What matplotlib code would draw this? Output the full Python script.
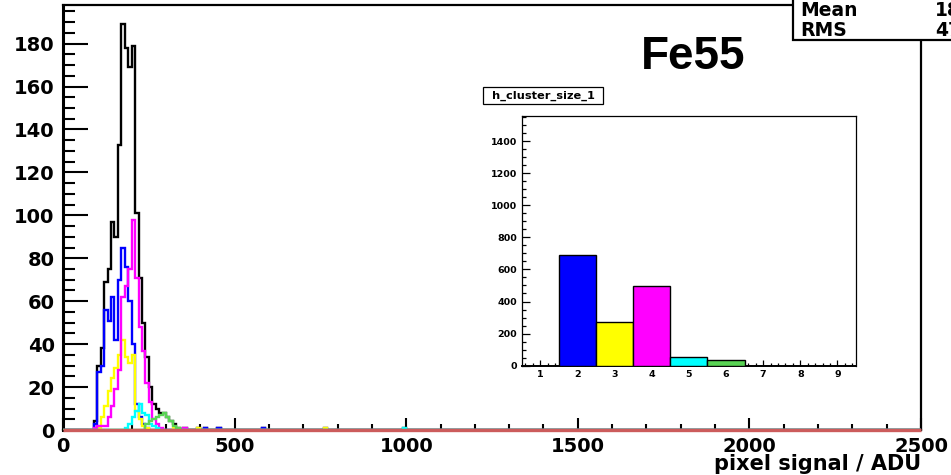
import numpy as np
import matplotlib
matplotlib.use("Agg")
import matplotlib.pyplot as plt
from matplotlib.patches import Rectangle
from matplotlib.ticker import MultipleLocator

plt.rcParams['font.family'] = ['DejaVu Sans']
plt.rcParams['font.weight'] = 'bold'

# pixel signal histograms, 10 ADU bins from 0 to 2500
bin_width = 10
n_bins = 250

# counts per bin, each list starts at the given bin index
total_start, total_counts = 9, [4, 30, 38, 69, 75, 97, 90, 133, 189, 178, 169, 179,
                                101, 71, 50, 34, 20, 12, 10, 8, 8, 6, 4, 3, 1]
size2_start, size2_counts = 9, [3, 27, 30, 56, 51, 62, 42, 70, 85, 76, 60, 40, 12, 6, 3, 1]
size3_start, size3_counts = 10, [1, 6, 11, 18, 24, 29, 35, 42, 34, 31, 35, 9, 5, 2, 1]
size4_start, size4_counts = 9, [1, 2, 2, 2, 6, 11, 19, 28, 62, 67, 75, 98, 71, 48, 37,
                                22, 13, 5, 3, 1]
size5_start, size5_counts = 18, [1, 3, 6, 9, 12, 8, 7, 3, 2, 1]
size6_start, size6_counts = 24, [3, 4, 5, 6, 7, 8, 6, 4, 2, 1]

# isolated single entries far out in the tail (bin indices)
size2_single = [41, 45, 58]
size3_single = [32, 39, 76]
size4_single = [35]
size5_single = [99]
total_single = [35, 39, 41, 45, 58, 76, 99]

# cluster size distribution for the inset
cluster_sizes = [1, 2, 3, 4, 5, 6, 7, 8, 9]
cluster_counts = [0, 690, 270, 498, 52, 35, 0, 0, 0]

stat_mean = "185.3"
stat_rms = "47.21"

col_total = "black"
col_size2 = "#0000ff"
col_size3 = "#ffff00"
col_size4 = "#ff00ff"
col_size5 = "#00ffff"
col_size6 = "#59d454"
col_size1 = "#cc5c5c"


def fill_hist(start, counts, singles=()):
    h = np.zeros(n_bins)
    h[start:start + len(counts)] += counts
    for b in singles:
        h[b] += 1
    return h


edges = np.arange(n_bins + 1) * bin_width

fig = plt.figure(figsize=(9.51, 4.75), dpi=100)
ax = fig.add_axes([63 / 951, 1 - 430 / 475, (921 - 63) / 951, (430 - 5) / 475])

hists = [
    (fill_hist(total_start, total_counts, total_single), col_total),
    (fill_hist(size2_start, size2_counts, size2_single), col_size2),
    (fill_hist(size3_start, size3_counts, size3_single), col_size3),
    (fill_hist(size4_start, size4_counts, size4_single), col_size4),
    (fill_hist(size5_start, size5_counts, size5_single), col_size5),
    (fill_hist(size6_start, size6_counts), col_size6),
]
for i, (h, c) in enumerate(hists):
    ax.stairs(h, edges, color=c, lw=1.7, zorder=3 + i)
# cluster size 1 is empty: flat line on the axis
ax.stairs(np.zeros(n_bins), edges, color=col_size1, lw=2.4, zorder=20, clip_on=False)

ax.set_xlim(0, 2500)
ax.set_ylim(0, 198)
ax.xaxis.set_major_locator(MultipleLocator(500))
ax.xaxis.set_minor_locator(MultipleLocator(100))
ax.yaxis.set_major_locator(MultipleLocator(20))
ax.yaxis.set_minor_locator(MultipleLocator(5))
ax.tick_params(axis='y', which='major', direction='in', length=18, width=1.5,
               labelsize=14, pad=6)
ax.tick_params(axis='y', which='minor', direction='in', length=8.5, width=1.5)
ax.tick_params(axis='x', which='major', direction='in', length=9, width=1.5,
               labelsize=14, pad=5)
ax.tick_params(axis='x', which='minor', direction='in', length=4.5, width=1.5)
for lab in ax.get_xticklabels() + ax.get_yticklabels():
    lab.set_fontweight('bold')
ax.spines['left'].set_linewidth(2.2)
for s in ('top', 'right', 'bottom'):
    ax.spines[s].set_linewidth(1.6)

fig.text(921 / 951, 1 - 464 / 475, "pixel signal / ADU", ha='right', va='center',
         fontsize=15, fontweight='bold')
fig.text(693 / 951, 1 - 57 / 475, "Fe55", ha='center', va='center',
         fontsize=33, fontweight='bold', family='Liberation Sans')

# statistics box in the top right corner, cut by the canvas edge
fig.patches.append(Rectangle((793 / 951, 1 - 40 / 475), 0.3, 0.2, transform=fig.transFigure,
                             facecolor='white', edgecolor='black', lw=1.6, zorder=30))
fig.text(800 / 951, 1 - 11 / 475, "Mean", ha='left', va='center', fontsize=13.5,
         fontweight='bold', zorder=31)
fig.text(800 / 951, 1 - 30 / 475, "RMS", ha='left', va='center', fontsize=13.5,
         fontweight='bold', zorder=31)
fig.text(935 / 951, 1 - 11 / 475, stat_mean, ha='left', va='center', fontsize=13.5,
         fontweight='bold', zorder=31)
fig.text(935 / 951, 1 - 30 / 475, stat_rms, ha='left', va='center', fontsize=13.5,
         fontweight='bold', zorder=31)

# inset: cluster size distribution
ins = fig.add_axes([521.5 / 951, 1 - 365.7 / 475, (856 - 521.5) / 951, (365.7 - 116) / 475])
ins.bar(cluster_sizes, cluster_counts, width=1.0,
        color=['white', col_size2, col_size3, col_size4, col_size5, col_size6,
               'white', 'white', 'white'],
        edgecolor='black', lw=1.0, zorder=3)
ins.set_xlim(0.5, 9.5)
ins.set_ylim(0, 1556)
ins.xaxis.set_major_locator(MultipleLocator(1))
ins.xaxis.set_minor_locator(MultipleLocator(0.2))
ins.yaxis.set_major_locator(MultipleLocator(200))
ins.yaxis.set_minor_locator(MultipleLocator(50))
ins.tick_params(which='major', direction='in', length=6, width=0.9, labelsize=6.8, pad=3)
ins.tick_params(which='minor', direction='in', length=3, width=0.9)
ins.tick_params(axis='x', which='major', length=4.5)
ins.tick_params(axis='x', which='minor', length=2.5)
for lab in ins.get_xticklabels() + ins.get_yticklabels():
    lab.set_fontweight('bold')
for s in ins.spines.values():
    s.set_linewidth(0.9)
ins.spines['bottom'].set_linewidth(1.4)

# title box of the inset
fig.patches.append(Rectangle((483 / 951, 1 - 104 / 475), 120 / 951, 17 / 475,
                             transform=fig.transFigure, facecolor='white',
                             edgecolor='black', lw=0.9))
fig.text(543 / 951, 1 - 95.5 / 475, "h_cluster_size_1", ha='center', va='center',
         fontsize=8.2, fontweight='bold')

fig.savefig("out.png", dpi=100)
